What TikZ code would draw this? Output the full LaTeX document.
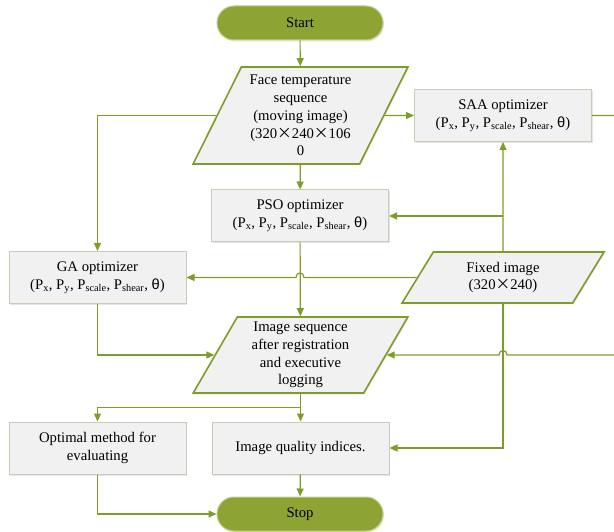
\documentclass[tikz,border=0pt]{standalone}
\usepackage{fontspec}
\setmainfont{Liberation Serif}
\newfontfamily\symfont{Liberation Sans}
\newfontfamily\cjkfont{Noto Sans CJK SC}
\usepackage{tikz}
\usetikzlibrary{arrows.meta, calc, shapes, shadows}
\definecolor{olivefonce}{RGB}{127,155,40}
\definecolor{oliveplein}{RGB}{141,164,52}
\definecolor{bordgris}{RGB}{198,204,184}
\definecolor{fondgris}{RGB}{241,241,241}
\newcommand{\fois}{{\cjkfont ×}}
\newcommand{\parametres}{(P\textsubscript{x}, P\textsubscript{y}, P\textsubscript{scale}, P\textsubscript{shear}, {\symfont θ})}

\begin{document}
\begin{tikzpicture}[
		x=1pt, y=-1pt,
		font=\fontsize{14.7}{17.8}\selectfont,
		boite/.style={rectangle, draw=bordgris, line width=1pt, fill=fondgris, align=center,
			minimum width=177pt, minimum height=52pt, inner sep=2pt,
			drop shadow={opacity=0.2, shadow xshift=1pt, shadow yshift=-1.5pt}},
		donnee/.style={trapezium, trapezium left angle=63, trapezium right angle=117,
			trapezium stretches=true, draw=olivefonce, line width=1.6pt, fill=fondgris,
			align=center, inner sep=1pt,
			drop shadow={opacity=0.15, shadow xshift=1pt, shadow yshift=-1.5pt}},
		terminal/.style={rectangle, rounded corners=17pt, minimum width=166pt, minimum height=34pt,
			fill=oliveplein, draw=oliveplein!55!white, line width=1pt,
			drop shadow={opacity=0.2, shadow xshift=1pt, shadow yshift=-1.5pt}},
		fleche/.style={draw=olivefonce, line width=1.2pt, -{Triangle[length=8pt, width=7pt]}}
		]
		\useasboundingbox (0,0) rectangle (614,532);
		\clip (0,0) rectangle (614,532);
		
		% Les blocs
		\node[terminal] (start) at (300,23) {Start};
		\node[donnee, minimum width=215pt, minimum height=97pt] (face) at (300.5,115.5)
			{Face temperature\\sequence\\(moving image)\\(320\fois240\fois106\\0};
		\node[boite] (saa) at (503,115.5) {SAA optimizer\\\parametres};
		\node[boite] (pso) at (300,216) {PSO optimizer\\\parametres};
		\node[boite] (ga) at (97.5,277.5) {GA optimizer\\\parametres};
		\node[donnee, minimum width=202pt, minimum height=51pt] (fixed) at (503,277.5)
			{Fixed image\\(320\fois240)};
		\node[donnee, minimum width=215pt, minimum height=76pt] (seq) at (300.5,355)
			{Image sequence\\after registration\\and executive\\logging};
		\node[boite] (opt) at (97.5,448) {Optimal method for\\evaluating};
		\node[boite] (qual) at (300.5,448) {Image quality indices.};
		\node[terminal] (stop) at (300,514) {Stop};
		
		% Les liaisons
		\draw[fleche] (start) -- (face);
		\draw[fleche] (face) -- (pso);
		\draw[fleche] (face) -- (saa);
		\draw[fleche] (face.west) -| (ga.north);
		\draw[fleche] (saa.east) -- ++(30,0)
			|- ($(fixed.center |- seq.east)+(4,0)$) .. controls +(0,-6) and +(0,-6) .. ($(fixed.center |- seq.east)+(-4,0)$)
			-- (seq.east);
		\draw[fleche] (fixed) -- (saa);
		\draw[fleche] (fixed.center |- pso.east) -- (pso.east);
		\draw[fleche] (fixed.west)
			-- ($(fixed.west -| pso.south)+(4,0)$) .. controls +(0,-6) and +(0,-6) .. ($(fixed.west -| pso.south)+(-4,0)$)
			-- (ga.east);
		\draw[fleche] (fixed.center |- fixed.south) |- (qual.east);
		\draw[fleche] (pso) -- (seq);
		\draw[fleche] (ga.south) |- (seq.west);
		\draw[fleche] (seq.center |- seq.south) -- ++(0,14) -| (opt.north);
		\draw[fleche] (seq.center |- seq.south) -- (qual);
		\draw[fleche] (qual) -- (stop);
		\draw[fleche] (opt.south) |- (stop.west);
	\end{tikzpicture}
\end{document}
